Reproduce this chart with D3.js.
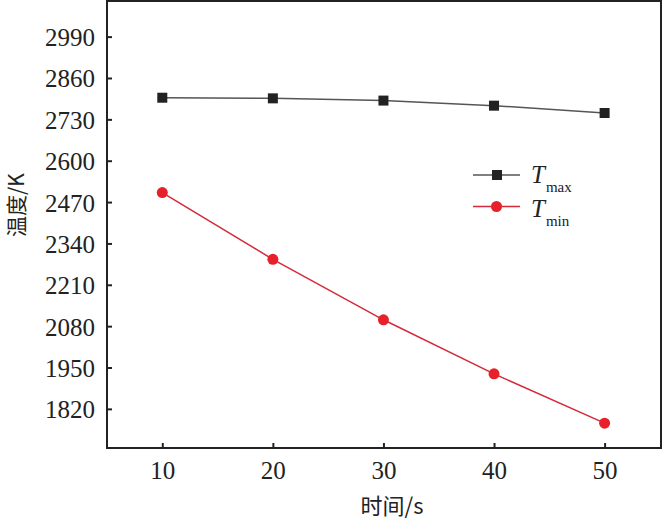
<!DOCTYPE html>
<html><head><meta charset="utf-8">
<script src="https://cdn.jsdelivr.net/npm/d3@7"></script>
<style>body{margin:0;background:#fff}svg{display:block}</style>
</head><body>
<svg id="c" width="664" height="521"></svg>
<script>
const times = [10, 20, 30, 40, 50];
const tMax = [2798, 2796, 2789, 2773, 2750];
const tMin = [2500, 2290, 2100, 1930, 1775];
const yTicks = [1820, 1950, 2080, 2210, 2340, 2470, 2600, 2730, 2860, 2990];
const xTicks = [10, 20, 30, 40, 50];

const svg = d3.select("#c");
const L = 107, R = 661, T = 1, B = 448;
const x = d3.scaleLinear().domain([5, 55.1]).range([L, R]);
const y = d3.scaleLinear().domain([1697, 3102]).range([B, T]);
const font = "'Liberation Serif', 'Times New Roman', serif";
const cjk = "'Noto Sans CJK SC', sans-serif";

// frame
svg.append("rect").attr("x", L).attr("y", T).attr("width", R - L).attr("height", B - T)
  .attr("fill", "none").attr("stroke", "#222").attr("stroke-width", 2);

const ya = svg.append("g").attr("transform", `translate(${L},0)`)
  .call(d3.axisLeft(y).tickValues(yTicks).tickFormat(d3.format("d")).tickSizeInner(-5).tickSizeOuter(0).tickPadding(12));
const xa = svg.append("g").attr("transform", `translate(0,${B})`)
  .call(d3.axisBottom(x).tickValues(xTicks).tickFormat(d3.format("d")).tickSizeInner(-5).tickSizeOuter(0).tickPadding(13));
[ya, xa].forEach(a => {
  a.attr("font-family", null).attr("font-size", null);
  a.select(".domain").remove();
  a.selectAll(".tick line").attr("stroke", "#222").attr("stroke-width", 2);
  a.selectAll("text").style("font-family", font).style("font-size", "25px").attr("fill", "#222");
});
ya.selectAll("text").attr("dy", "0.36em");

// axis titles
svg.append("text").attr("x", 392).attr("y", 514).attr("text-anchor", "middle")
  .style("font-family", cjk).style("font-size", "22px").attr("fill", "#222")
  .text("时间/s");
svg.append("text").attr("transform", "translate(24,205) rotate(-90)").attr("text-anchor", "middle")
  .style("font-family", cjk).style("font-size", "21px").attr("fill", "#222")
  .text("温度/K");

const line = d3.line().x((d, i) => x(times[i])).y(d => y(d));
const cMax = "#222", cMaxLine = "#555", cMin = "#e8202a", cMinLine = "#d42a3a";

svg.append("path").datum(tMax).attr("d", line).attr("fill", "none").attr("stroke", cMaxLine).attr("stroke-width", 1.5);
svg.append("path").datum(tMin).attr("d", line).attr("fill", "none").attr("stroke", cMinLine).attr("stroke-width", 1.5);
svg.selectAll(".sq").data(tMax).enter().append("rect")
  .attr("x", (d, i) => x(times[i]) - 5).attr("y", d => y(d) - 5)
  .attr("width", 10).attr("height", 10).attr("fill", cMax);
svg.selectAll(".ci").data(tMin).enter().append("circle")
  .attr("cx", (d, i) => x(times[i])).attr("cy", d => y(d)).attr("r", 5.5).attr("fill", cMin);

// legend
const lg = svg.append("g");
lg.append("line").attr("x1", 473).attr("x2", 520).attr("y1", 175).attr("y2", 175).attr("stroke", cMaxLine).attr("stroke-width", 1.5);
lg.append("rect").attr("x", 492).attr("y", 170).attr("width", 10).attr("height", 10).attr("fill", cMax);
lg.append("line").attr("x1", 473).attr("x2", 520).attr("y1", 206.5).attr("y2", 206.5).attr("stroke", cMinLine).attr("stroke-width", 1.5);
lg.append("circle").attr("cx", 496.5).attr("cy", 206.5).attr("r", 5.5).attr("fill", cMin);
[["max", 183], ["min", 217]].forEach(([s, by]) => {
  const t = lg.append("text").attr("x", 531).attr("y", by).style("font-family", font).attr("fill", "#222");
  t.append("tspan").style("font-style", "italic").style("font-size", "25px").text("T");
  t.append("tspan").style("font-size", "15px").attr("dx", 1).attr("dy", 9).text(s);
});
</script>
</body></html>
